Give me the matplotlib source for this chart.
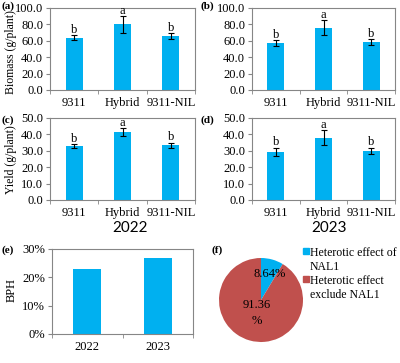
import numpy as np
import matplotlib
matplotlib.use("Agg")
import matplotlib.pyplot as plt
from matplotlib.patches import Rectangle
from matplotlib.ticker import FuncFormatter

# Data
cultivars = ["9311", "Hybrid", "9311-NIL"]
letters = ["b", "a", "b"]

biomass_2022 = [63.5, 80.0, 65.5]
biomass_2022_err = [3.0, 10.0, 3.5]
biomass_2023 = [57.0, 76.0, 58.5]
biomass_2023_err = [3.5, 9.0, 3.5]

yield_2022 = [33.0, 41.5, 33.5]
yield_2022_err = [1.2, 2.5, 1.5]
yield_2023 = [29.5, 38.0, 30.0]
yield_2023_err = [2.5, 4.5, 2.0]

years = ["2022", "2023"]
bph = [0.23, 0.27]

pie_labels = ["Heterotic effect of\nNAL1", "Heterotic effect\nexclude NAL1"]
pie_values = [8.64, 91.36]

BLUE = "#00B0F0"
RED = "#C0504D"
GREY = "#868686"
SERIF = "Liberation Serif"
FS = 9

plt.rcParams["font.family"] = SERIF
plt.rcParams["font.size"] = FS

W, H = 400, 363
fig = plt.figure(figsize=(W / 100, H / 100), dpi=100)


def px_axes(left, top, right, bottom):
    return fig.add_axes([left / W, 1 - bottom / H, (right - left) / W, (bottom - top) / H])


def style_axes(ax, ncat):
    for s in ax.spines.values():
        s.set_color(GREY)
        s.set_linewidth(0.8)
    ax.set_xlim(0, ncat)
    ax.set_xticks(np.arange(ncat) + 0.5)
    ax.set_xticks(np.arange(ncat + 1), minor=True)
    ax.tick_params(axis="x", which="major", length=0, pad=5, labelsize=FS)
    ax.tick_params(axis="x", which="minor", length=3, color=GREY, direction="out")
    ax.tick_params(axis="y", length=3, color=GREY, direction="out", labelsize=FS, pad=2)


def bar_panel(ax, vals, errs, ymax, step):
    x = np.arange(len(cultivars)) + 0.5
    ax.bar(x, vals, width=0.35, color=BLUE, zorder=2)
    ax.errorbar(x, vals, yerr=errs, fmt="none", ecolor="black", elinewidth=0.8,
                capsize=2.5, capthick=0.8, zorder=3)
    for xi, v, e, t in zip(x, vals, errs, letters):
        ax.text(xi, v + e - ymax * 0.01, t, ha="center", va="bottom", fontsize=FS)
    style_axes(ax, len(cultivars))
    ax.set_xticklabels(cultivars)
    ax.set_ylim(0, ymax)
    ax.set_yticks(np.arange(0, ymax + 0.1, step))
    ax.yaxis.set_major_formatter(FuncFormatter(lambda v, p: "%.1f" % v))


ax_a = px_axes(50, 8, 195, 90)
bar_panel(ax_a, biomass_2022, biomass_2022_err, 100, 20)
ax_b = px_axes(252, 8, 395, 90)
bar_panel(ax_b, biomass_2023, biomass_2023_err, 100, 20)
ax_c = px_axes(50, 118, 195, 200)
bar_panel(ax_c, yield_2022, yield_2022_err, 50, 10)
ax_d = px_axes(252, 118, 395, 200)
bar_panel(ax_d, yield_2023, yield_2023_err, 50, 10)

# y-axis titles
fig.text(11 / W, 1 - 52 / H, "Biomass (g/plant)", rotation=90, fontsize=8.5,
         ha="center", va="center")
fig.text(11 / W, 1 - 160 / H, "Yield (g/plant)", rotation=90, fontsize=8.5,
         ha="center", va="center")

fig.text(130 / W, 1 - 228 / H, "2022", family="Lato", fontsize=11, ha="center", va="center")
fig.text(329 / W, 1 - 228 / H, "2023", family="Lato", fontsize=11, ha="center", va="center")

# (e) BPH
ax_e = px_axes(52, 249, 193, 334)
ax_e.bar(np.arange(len(years)) + 0.5, bph, width=0.4, color=BLUE, zorder=2)
style_axes(ax_e, len(years))
ax_e.set_xticklabels(years)
ax_e.set_ylim(0, 0.3)
ax_e.set_yticks([0, 0.1, 0.2, 0.3])
ax_e.yaxis.set_major_formatter(FuncFormatter(lambda v, p: "%d%%" % round(v * 100)))
fig.text(12 / W, 1 - 290 / H, "BPH", rotation=90, fontsize=FS, ha="center", va="center")

# (f) pie
ax_f = px_axes(219, 258, 303, 342)
wedges, _ = ax_f.pie(pie_values, colors=[BLUE, RED], startangle=90, counterclock=False,
                     radius=1)
ax_f.set_xlim(-1, 1)
ax_f.set_ylim(-1, 1)
ax_f.set_aspect("auto")
ax_f.text(0.2, 0.62, "%.2f%%" % pie_values[0], ha="center", va="center", fontsize=FS)
ax_f.text(-0.1, -0.31, "%.2f\n%%" % pie_values[1], ha="center", va="center", fontsize=FS,
          linespacing=1.35)

# legend drawn by hand so the square sits on the first text line
for i, (lab, col) in enumerate(zip(pie_labels, [BLUE, RED])):
    top = 247 + i * 28
    fig.patches.append(Rectangle((303 / W, 1 - (top + 7) / H), 6 / W, 6 / H,
                                 transform=fig.transFigure, color=col, figure=fig))
    fig.text(310 / W, 1 - top / H, lab, fontsize=8.5, ha="left", va="top",
             linespacing=1.25)

# panel letters
for lab, x, y in [("(a)", 1, 6), ("(b)", 201, 6), ("(c)", 1, 120), ("(d)", 201, 120),
                  ("(e)", 2, 250), ("(f)", 211, 250)]:
    fig.text(x / W, 1 - y / H, lab, fontweight="bold", fontsize=8, ha="left", va="center")

fig.savefig("out.png", dpi=100)
